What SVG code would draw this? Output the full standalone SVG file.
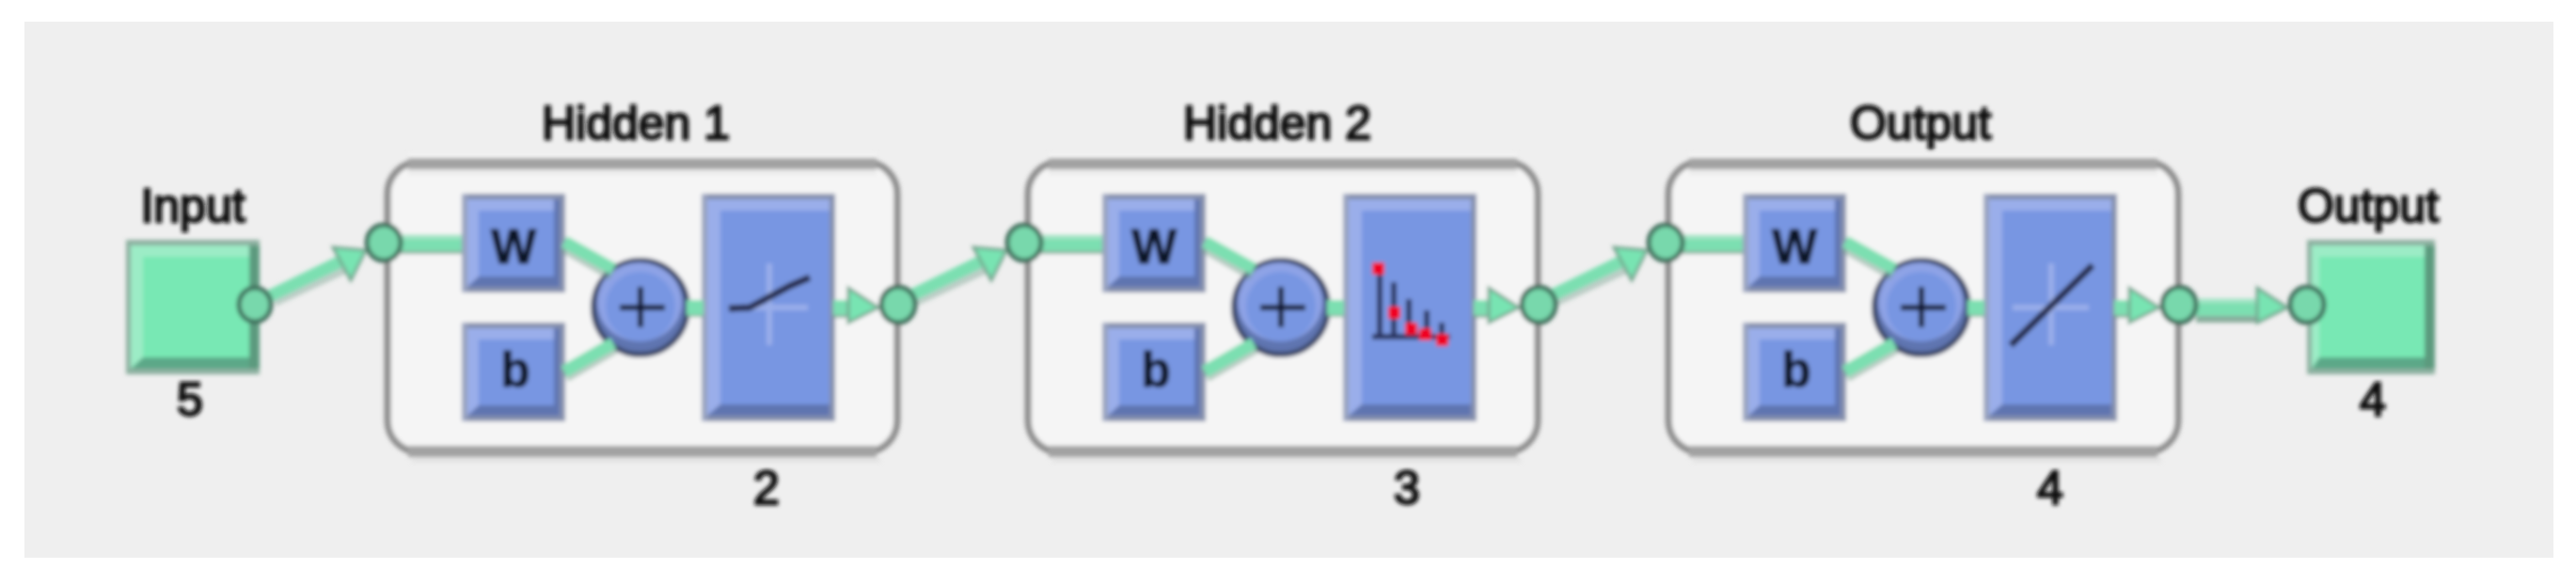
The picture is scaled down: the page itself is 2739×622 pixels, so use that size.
<svg xmlns="http://www.w3.org/2000/svg" xmlns:xlink="http://www.w3.org/1999/xlink" width="2739" height="622" viewBox="0 0 2739 622">
<style>
.lbl{font-family:"Liberation Sans",Arial,sans-serif;font-size:50px;fill:#0c0c0c;stroke:#0c0c0c;stroke-width:2.4px;text-anchor:middle}
.sym{font-family:"Liberation Sans",Arial,sans-serif;font-size:51px;font-weight:bold;fill:#0c1226;stroke:#0c1226;stroke-width:1.2px;text-anchor:middle}
.wire{fill:none;stroke:#7bdfb1;stroke-width:16}
.thin{fill:none;stroke:#7bdfb1;stroke-width:13}
.wsh{fill:none;stroke:#6f9c88;stroke-width:18}
.wlt{fill:none;stroke:#a0e4c4;stroke-width:5}
.port{fill:#78d8ac;stroke:#3f6e5c;stroke-width:5}
.head{fill:#78e4b2;stroke:#74a48e;stroke-width:3}
.ax{stroke:#9aaeea;stroke-width:6;fill:none}
.cv{stroke:#252c4c;stroke-width:7;fill:none}
.stem{stroke:#2b3660;stroke-width:6;fill:none}
.dot{fill:#f00020}
</style>
<defs>
<filter id="soft" x="-2%" y="-2%" width="104%" height="104%"><feGaussianBlur stdDeviation="2"/></filter>
<g id="blueTall">
<rect x="0" y="0" width="142" height="242" fill="#8590ad"/>
<rect x="6" y="6" width="136" height="230" fill="#5e74b0"/>
<polygon points="6,6 136,6 136,18 20,18 20,224 6,236" fill="#9aaeea"/>
<rect x="20" y="18" width="116" height="206" fill="#7896e2"/>
<rect x="136" y="6" width="6" height="230" fill="#8590ad"/>
<rect x="0" y="0" width="6" height="242" fill="#98a3bf"/>
</g>
<g id="blueSmall">
<rect x="0" y="0" width="110" height="105" fill="#8590ad"/>
<rect x="6" y="6" width="104" height="93" fill="#5e74b0"/>
<polygon points="6,6 98,6 98,18 18,18 18,88 6,99" fill="#9aaeea"/>
<rect x="18" y="18" width="80" height="70" fill="#7896e2"/>
<rect x="104" y="6" width="6" height="93" fill="#8590ad"/>
<rect x="0" y="0" width="6" height="105" fill="#98a3bf"/>
</g>
<g id="greenBox">
<rect x="0" y="0" width="142" height="143" fill="#8db0a0"/>
<rect x="5" y="6" width="137" height="131" fill="#5ba888"/>
<polygon points="5,6 131,6 131,18 18,18 18,125 5,137" fill="#9cecc6"/>
<rect x="18" y="18" width="113" height="107" fill="#78e8b4"/>
<rect x="131" y="6" width="11" height="131" fill="#5c9a7e"/>
</g>
<g id="frame">
<rect x="412" y="172" width="542" height="309" rx="34" fill="#f5f5f5" stroke="#8e8e8e" stroke-width="7"/>
<rect x="434" y="163" width="498" height="5" fill="#f4f4f4"/>
<rect x="434" y="168" width="498" height="12" fill="#a2a2a2"/>
<rect x="434" y="180" width="498" height="6" fill="#ebebeb"/>
<rect x="434" y="474" width="498" height="12" fill="#a2a2a2"/>
<rect x="438" y="486" width="498" height="6" fill="#e4e4e4"/>
</g>
<g id="wiring">
<path class="wsh" d="M408 261H491" opacity=".8"/><path class="wire" d="M408 259H491"/><path class="wlt" d="M408 252H491"/>
<path class="wsh" d="M600 260L652 290" opacity=".45"/><path class="thin" d="M600 257L652 286"/>
<path class="wsh" d="M600 398L652 368" opacity=".45"/><path class="thin" d="M600 395L652 365"/>
<path class="wsh" d="M730 328H748" opacity=".8"/><path class="wire" d="M730 327H748"/>
<path class="wsh" d="M886 329H904" opacity=".8"/><path class="wire" d="M886 327H904"/>
<polygon class="head" points="902,306 934,327 902,343"/>
</g>
<g id="sumShape">
<ellipse cx="681" cy="327" rx="50" ry="50" fill="#5f74b0" stroke="#3d4a6c" stroke-width="6"/>
<ellipse cx="680" cy="321" rx="45" ry="42" fill="#8ea3e6"/>
<ellipse cx="681" cy="326" rx="37" ry="37" fill="#7896e2"/>
<path d="M659 327H707M681 305V348" stroke="#161c34" stroke-width="6" fill="none"/>
</g>
</defs>
<rect width="2739" height="622" fill="#ffffff"/>
<rect x="26" y="23" width="2689" height="570" fill="#efefef"/>
<g filter="url(#soft)">
<g id="hidden1">
<use xlink:href="#frame" href="#frame"/>
<use xlink:href="#blueSmall" href="#blueSmall" x="491" y="206"/>
<use xlink:href="#blueSmall" href="#blueSmall" x="491" y="343"/>
<use xlink:href="#blueTall" href="#blueTall" x="746" y="206"/>
<use xlink:href="#sumShape" href="#sumShape"/>
<path class="ax" d="M818 280V367M777 327H859"/>
<path class="cv" d="M775 328L797 327L840 304L861 295"/>
<text class="sym" x="546" y="280">W</text>
<text class="sym" x="548" y="411">b</text>
<text class="lbl" x="676" y="148">Hidden 1</text>
<text class="lbl" x="815" y="536">2</text>
</g>
<g id="hidden2">
<use xlink:href="#frame" href="#frame" x="681"/>
<use xlink:href="#blueSmall" href="#blueSmall" x="1172" y="206"/>
<use xlink:href="#blueSmall" href="#blueSmall" x="1172" y="343"/>
<use xlink:href="#blueTall" href="#blueTall" x="1428" y="206"/>
<use xlink:href="#sumShape" href="#sumShape" x="681"/>
<path class="stem" d="M1467 280V358M1482 300V358M1498 318V358M1517 330V358M1533 343V358M1459 358H1542"/>
<rect class="dot" x="1459" y="279" width="13" height="13"/>
<rect class="dot" x="1476" y="326" width="13" height="13"/>
<rect class="dot" x="1494" y="343" width="13" height="13"/>
<rect class="dot" x="1509" y="349" width="13" height="13"/>
<rect class="dot" x="1527" y="355" width="13" height="13"/>
<text class="sym" x="1227" y="280">W</text>
<text class="sym" x="1229" y="411">b</text>
<text class="lbl" x="1358" y="148">Hidden 2</text>
<text class="lbl" x="1496" y="536">3</text>
</g>
<g id="hidden3">
<use xlink:href="#frame" href="#frame" x="1362"/>
<use xlink:href="#blueSmall" href="#blueSmall" x="1853" y="206"/>
<use xlink:href="#blueSmall" href="#blueSmall" x="1853" y="343"/>
<use xlink:href="#blueTall" href="#blueTall" x="2109" y="206"/>
<use xlink:href="#sumShape" href="#sumShape" x="1362"/>
<path class="ax" d="M2181 280V367M2140 327H2221"/>
<path class="cv" d="M2138 367L2225 282"/>
<text class="sym" x="1908" y="280">W</text>
<text class="sym" x="1910" y="411">b</text>
<text class="lbl" x="2042" y="148">Output</text>
<text class="lbl" x="2180" y="536">4</text>
</g>
<g id="input">
<use xlink:href="#greenBox" href="#greenBox" x="134" y="255"/>
<text class="lbl" x="205" y="236">Input</text>
<text class="lbl" x="202" y="442">5</text>
</g>
<g id="output">
<rect x="2453" y="255" width="136" height="143" fill="#8db0a0"/>
<rect x="2458" y="261" width="131" height="131" fill="#5ba888"/>
<polygon points="2458,261 2578,261 2578,273 2466,273 2466,380 2458,392" fill="#9cecc6"/>
<rect x="2466" y="273" width="112" height="107" fill="#78e8b4"/>
<rect x="2578" y="261" width="11" height="131" fill="#5c9a7e"/>
<text class="lbl" x="2518" y="236">Output</text>
<text class="lbl" x="2523" y="442">4</text>
</g>
<g id="connectors">
<use xlink:href="#wiring" href="#wiring"/>
<use xlink:href="#wiring" href="#wiring" x="681"/>
<use xlink:href="#wiring" href="#wiring" x="1362"/>
<path class="wsh" d="M290 317L372 279" opacity=".4"/><path class="thin" d="M284 316L372 273"/>
<polygon class="head" points="389,266 354,263 373,298"/>
<path class="wsh" d="M971 317L1053 279" opacity=".4"/><path class="thin" d="M965 316L1053 273"/>
<polygon class="head" points="1070,266 1035,263 1054,298"/>
<path class="wsh" d="M1652 317L1734 279" opacity=".4"/><path class="thin" d="M1646 316L1734 273"/>
<polygon class="head" points="1751,266 1716,263 1735,298"/>
<path class="wsh" d="M2335 334H2402" opacity=".8"/><path class="wire" d="M2335 328H2402"/><path class="wlt" d="M2335 320H2402"/>
<polygon class="head" points="2400,306 2432,327 2400,343"/>
<ellipse class="port" cx="271" cy="324" rx="17" ry="18"/>
<ellipse class="port" cx="408" cy="258" rx="18" ry="19"/>
<ellipse class="port" cx="955" cy="324" rx="18" ry="19"/>
<ellipse class="port" cx="1089" cy="258" rx="18" ry="19"/>
<ellipse class="port" cx="1636" cy="324" rx="18" ry="19"/>
<ellipse class="port" cx="1771" cy="258" rx="18" ry="19"/>
<ellipse class="port" cx="2317" cy="324" rx="18" ry="19"/>
<ellipse class="port" cx="2453" cy="324" rx="18" ry="19"/>
</g>
</g>
</svg>
